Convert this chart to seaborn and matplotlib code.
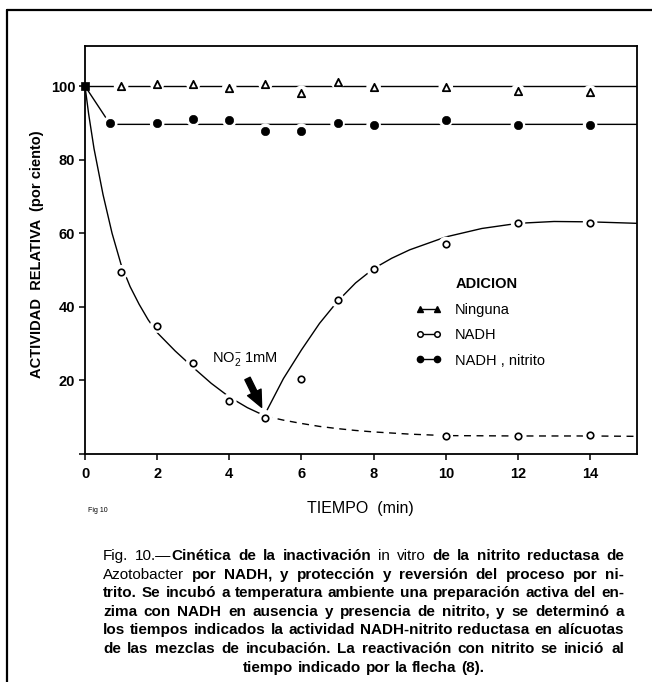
import numpy as np
import pandas as pd
import matplotlib
matplotlib.use("Agg")
import matplotlib.pyplot as plt
from matplotlib.lines import Line2D
import seaborn as sns

# ---------------- data ----------------
# Ninguna (no addition) - triangles
ning_t = [1, 2, 3, 4, 5, 6, 7, 8, 10, 12, 14]
ning_v = [100.0, 100.7, 100.7, 99.5, 100.7, 98.2, 101.2, 99.8, 99.8, 98.6, 98.3]
ning_line_t = [0, 15.3]
ning_line_v = [100, 100]

# NADH + nitrito - filled circles
nit_t = [0.7, 2, 3, 4, 5, 6, 7, 8, 10, 12, 14]
nit_v = [89.9, 89.9, 91.0, 90.7, 87.9, 87.9, 89.9, 89.4, 90.8, 89.4, 89.4]
nit_line_t = [0, 0.7, 15.3]
nit_line_v = [100, 89.6, 89.6]

# NADH - open circles
nadh_t = [1, 2, 3, 4, 5, 6, 7, 8, 10, 12, 14]
nadh_v = [49.4, 34.9, 24.8, 14.5, 9.9, 20.5, 41.8, 50.2, 57.1, 62.9, 62.9]
nadh_no_t = [10, 12, 14]
nadh_no_v = [4.9, 5.0, 5.2]

# start point shared by all series
start_t = [0]
start_v = [100]

# drawn curves
decay_t = [0, 0.1, 0.25, 0.4, 0.5, 0.75, 1.0, 1.25, 1.5, 1.75, 2.0, 2.5, 3.0, 3.5, 4.0, 4.5, 5.0]
decay_v = [100, 92.5, 83, 75.5, 70.5, 60, 51.5, 45.5, 40.7, 36.5, 33.0, 28.0, 23.5, 19.2, 15.5, 12.6, 10.3]
dash_t = [5.0, 5.5, 6.0, 6.5, 7.0, 7.5, 8.0, 9.0, 10.0, 12.0, 14.0, 15.3]
dash_v = [10.3, 9.2, 8.3, 7.5, 6.9, 6.4, 6.0, 5.4, 5.0, 4.9, 4.9, 4.8]
rec_t = [5.05, 5.5, 6.0, 6.5, 7.0, 7.5, 8.0, 8.5, 9.0, 10.0, 11.0, 12.0, 13.0, 14.0, 15.3]
rec_v = [12.0, 20.5, 28.3, 35.5, 41.5, 46.5, 50.4, 53.2, 55.5, 59.0, 61.3, 62.7, 63.2, 63.1, 62.7]

x_ticks = [0, 2, 4, 6, 8, 10, 12, 14]
y_ticks = [0, 20, 40, 60, 80, 100]
y_ticklabels = ["", "20", "40", "60", "80", "100"]

legend_labels = ["Ninguna", "NADH", "NADH , nitrito"]
legend_title = "ADICION"

caption_lines = [
    "Fig. 10.—*Cinética de la inactivación* in vitro *de la nitrito reductasa de*",
    "Azotobacter *por NADH, y protección y reversión del proceso por ni-*",
    "*trito. Se incubó a temperatura ambiente una preparación activa del en-*",
    "*zima con NADH en ausencia y presencia de nitrito, y se determinó a*",
    "*los tiempos indicados la actividad NADH-nitrito reductasa en alícuotas*",
    "*de las mezclas de incubación. La reactivación con nitrito se inició al*",
    "*tiempo indicado por la flecha (8).*",
]

# ---------------- style ----------------
sns.set_style("ticks")
FONT = ["Liberation Sans", "DejaVu Sans"]
plt.rcParams["font.family"] = FONT
plt.rcParams["text.color"] = "black"
plt.rcParams["axes.labelcolor"] = "black"
plt.rcParams["xtick.color"] = "black"
plt.rcParams["ytick.color"] = "black"
plt.rcParams["axes.edgecolor"] = "black"
plt.rcParams["mathtext.fontset"] = "custom"
plt.rcParams["mathtext.rm"] = "Liberation Sans"
plt.rcParams["mathtext.it"] = "Liberation Sans:italic"
plt.rcParams["mathtext.bf"] = "Liberation Sans:bold"

CAP_FAMILY = ["Liberation Sans", "DejaVu Sans"]
CAP_FS = 11.0

W, H = 652, 682
fig = plt.figure(figsize=(W / 100, H / 100), dpi=100)
ax = fig.add_axes([85 / W, 1 - 454 / H, 552 / W, 408 / H])

lw = 1.0
# lines
sns.lineplot(x=ning_line_t, y=ning_line_v, ax=ax, color="k", lw=lw, estimator=None, sort=False, zorder=2)
sns.lineplot(x=nit_line_t, y=nit_line_v, ax=ax, color="k", lw=lw, estimator=None, sort=False, zorder=2)
sns.lineplot(x=decay_t, y=decay_v, ax=ax, color="k", lw=lw, estimator=None, sort=False, zorder=2)
sns.lineplot(x=rec_t, y=rec_v, ax=ax, color="k", lw=lw, estimator=None, sort=False, zorder=2)
ax.plot(dash_t, dash_v, color="k", lw=lw, ls=(0, (5, 4)), zorder=2)

# white halos to give the printed "gap" look around markers
all_t = ning_t + nit_t + nadh_t + nadh_no_t
all_v = ning_v + nit_v + nadh_v + nadh_no_v
sns.scatterplot(x=all_t, y=all_v, ax=ax, s=110, color="white", edgecolor="none", zorder=3, legend=False)

# markers
sns.scatterplot(x=ning_t, y=ning_v, ax=ax, marker="^", s=28, facecolor="white", edgecolor="k",
                linewidth=1.3, zorder=4, legend=False)
sns.scatterplot(x=nit_t, y=nit_v, ax=ax, marker="o", s=36, color="k", edgecolor="k", zorder=4, legend=False)
sns.scatterplot(x=nadh_t, y=nadh_v, ax=ax, marker="o", s=22, facecolor="white", edgecolor="k",
                linewidth=1.2, zorder=4, legend=False)
sns.scatterplot(x=nadh_no_t, y=nadh_no_v, ax=ax, marker="o", s=22, facecolor="white", edgecolor="k",
                linewidth=1.2, zorder=4, legend=False)
sns.scatterplot(x=start_t, y=start_v, ax=ax, marker="s", s=40, color="k", edgecolor="k", zorder=5,
                legend=False, clip_on=False)

ax.set_xlim(0, 15.3)
ax.set_ylim(0, 110.9)
ax.set_xticks(x_ticks)
ax.set_xticklabels([str(v) for v in x_ticks])
ax.set_yticks(y_ticks)
ax.set_yticklabels(y_ticklabels)
ax.tick_params(axis="both", direction="out", length=4, width=1.1, color="k", labelcolor="k",
               labelsize=10.5, pad=3)
ax.tick_params(axis="x", pad=5)
for sp in ax.spines.values():
    sp.set_visible(True)
    sp.set_linewidth(1.3)
    sp.set_color("k")
for lab in ax.get_xticklabels() + ax.get_yticklabels():
    lab.set_fontweight("bold")
ax.set_xlabel("")
ax.set_ylabel("")

# annotation
ax.text(3.52, 25.8, r"NO$_2^{-}$ 1mM", fontsize=10.5, va="center", ha="left", color="k")
ax.annotate("", xy=(4.93, 12.0), xytext=(4.47, 21.2),
            arrowprops=dict(arrowstyle="simple,head_width=0.9,head_length=1.0,tail_width=0.35",
                            fc="k", ec="k", mutation_scale=12))

# legend
handles = [
    Line2D([], [], color="k", lw=1, marker="^", ms=4.5, mfc="k", mec="k"),
    Line2D([], [], color="k", lw=1, marker="o", ms=4, mfc="white", mec="k", mew=1.1),
    Line2D([], [], color="k", lw=1, marker="o", ms=4.5, mfc="k", mec="k"),
]
leg = ax.legend(handles, legend_labels, title=legend_title, frameon=False, loc="upper left",
                bbox_to_anchor=(0.588, 0.447), handlelength=1.8, handletextpad=0.9, numpoints=2,
                labelspacing=0.78, fontsize=10.5, title_fontproperties={"size": 10.5, "weight": "bold"},
                borderaxespad=0)
leg._legend_box.align = "center"
leg.get_title().set_position((7, 0))
leg.get_title().set_color("k")
for t in leg.get_texts():
    t.set_color("k")

# axis labels
fig.text(37 / W, 1 - 254 / H, "ACTIVIDAD  RELATIVA  (por ciento)", rotation=90, ha="center",
         va="center", fontsize=10.5, fontweight="bold", color="k")
fig.text(360 / W, 1 - 509 / H, "TIEMPO  (min)", ha="center", va="center", fontsize=11.5, color="k")
fig.text(98 / W, 1 - 510 / H, "Fig 10", ha="center", va="center", fontsize=5, color="k")

# outer frame lines
fig.add_artist(Line2D([7 / W, 7 / W], [0, 1 - 10 / H], color="k", lw=1.6, transform=fig.transFigure))
fig.add_artist(Line2D([7 / W, 1], [1 - 10 / H, 1 - 10 / H], color="k", lw=1.6, transform=fig.transFigure))

# caption (justified)
def parse(line):
    words = []
    bold = False
    for w in line.split(" "):
        segs, cur = [], ""
        for ch in w:
            if ch == "*":
                if cur:
                    segs.append((cur, bold))
                    cur = ""
                bold = not bold
            else:
                cur += ch
        if cur:
            segs.append((cur, bold))
        words.append(segs)
    return words

fig.canvas.draw()
renderer = fig.canvas.get_renderer()
left_px, right_px = 103, 624
y0, dy = 555, 18.6

parsed = [parse(l) for l in caption_lines]

def measure(fs):
    out = []
    for words in parsed:
        tot = 0
        for segs in words:
            for s, b in segs:
                t = fig.text(0, 0, s, fontsize=fs, family=CAP_FAMILY, fontweight="bold" if b else "normal")
                tot += t.get_window_extent(renderer).width
                t.remove()
        out.append((tot, len(words) - 1))
    return out

# make sure every justified line keeps a visible gap between words
fs = CAP_FS
while True:
    m = measure(fs)
    ok = all((right_px - left_px - tot) / n >= 4.0 for tot, n in m[:-1])
    if ok or fs < 8:
        break
    fs -= 0.2

for i, words in enumerate(parsed):
    texts, widths = [], []
    for segs in words:
        wt, ww = [], 0
        for s, b in segs:
            t = fig.text(0, 0, s, fontsize=fs, family=CAP_FAMILY, fontweight="bold" if b else "normal",
                         ha="left", va="baseline", color="k")
            w = t.get_window_extent(renderer).width
            wt.append((t, w))
            ww += w
        texts.append(wt)
        widths.append(ww)
    total = sum(widths)
    ypx = y0 + i * dy + 5
    if i == len(parsed) - 1:
        gap = 4.5
        full = total + gap * (len(words) - 1)
        x = (left_px + right_px) / 2 - full / 2
    else:
        gap = (right_px - left_px - total) / (len(words) - 1)
        x = left_px
    for wt, ww in zip(texts, widths):
        xx = x
        for t, w in wt:
            t.set_position((xx / W, 1 - ypx / H))
            xx += w
        x += ww + gap

fig.savefig("out.png", dpi=100)
